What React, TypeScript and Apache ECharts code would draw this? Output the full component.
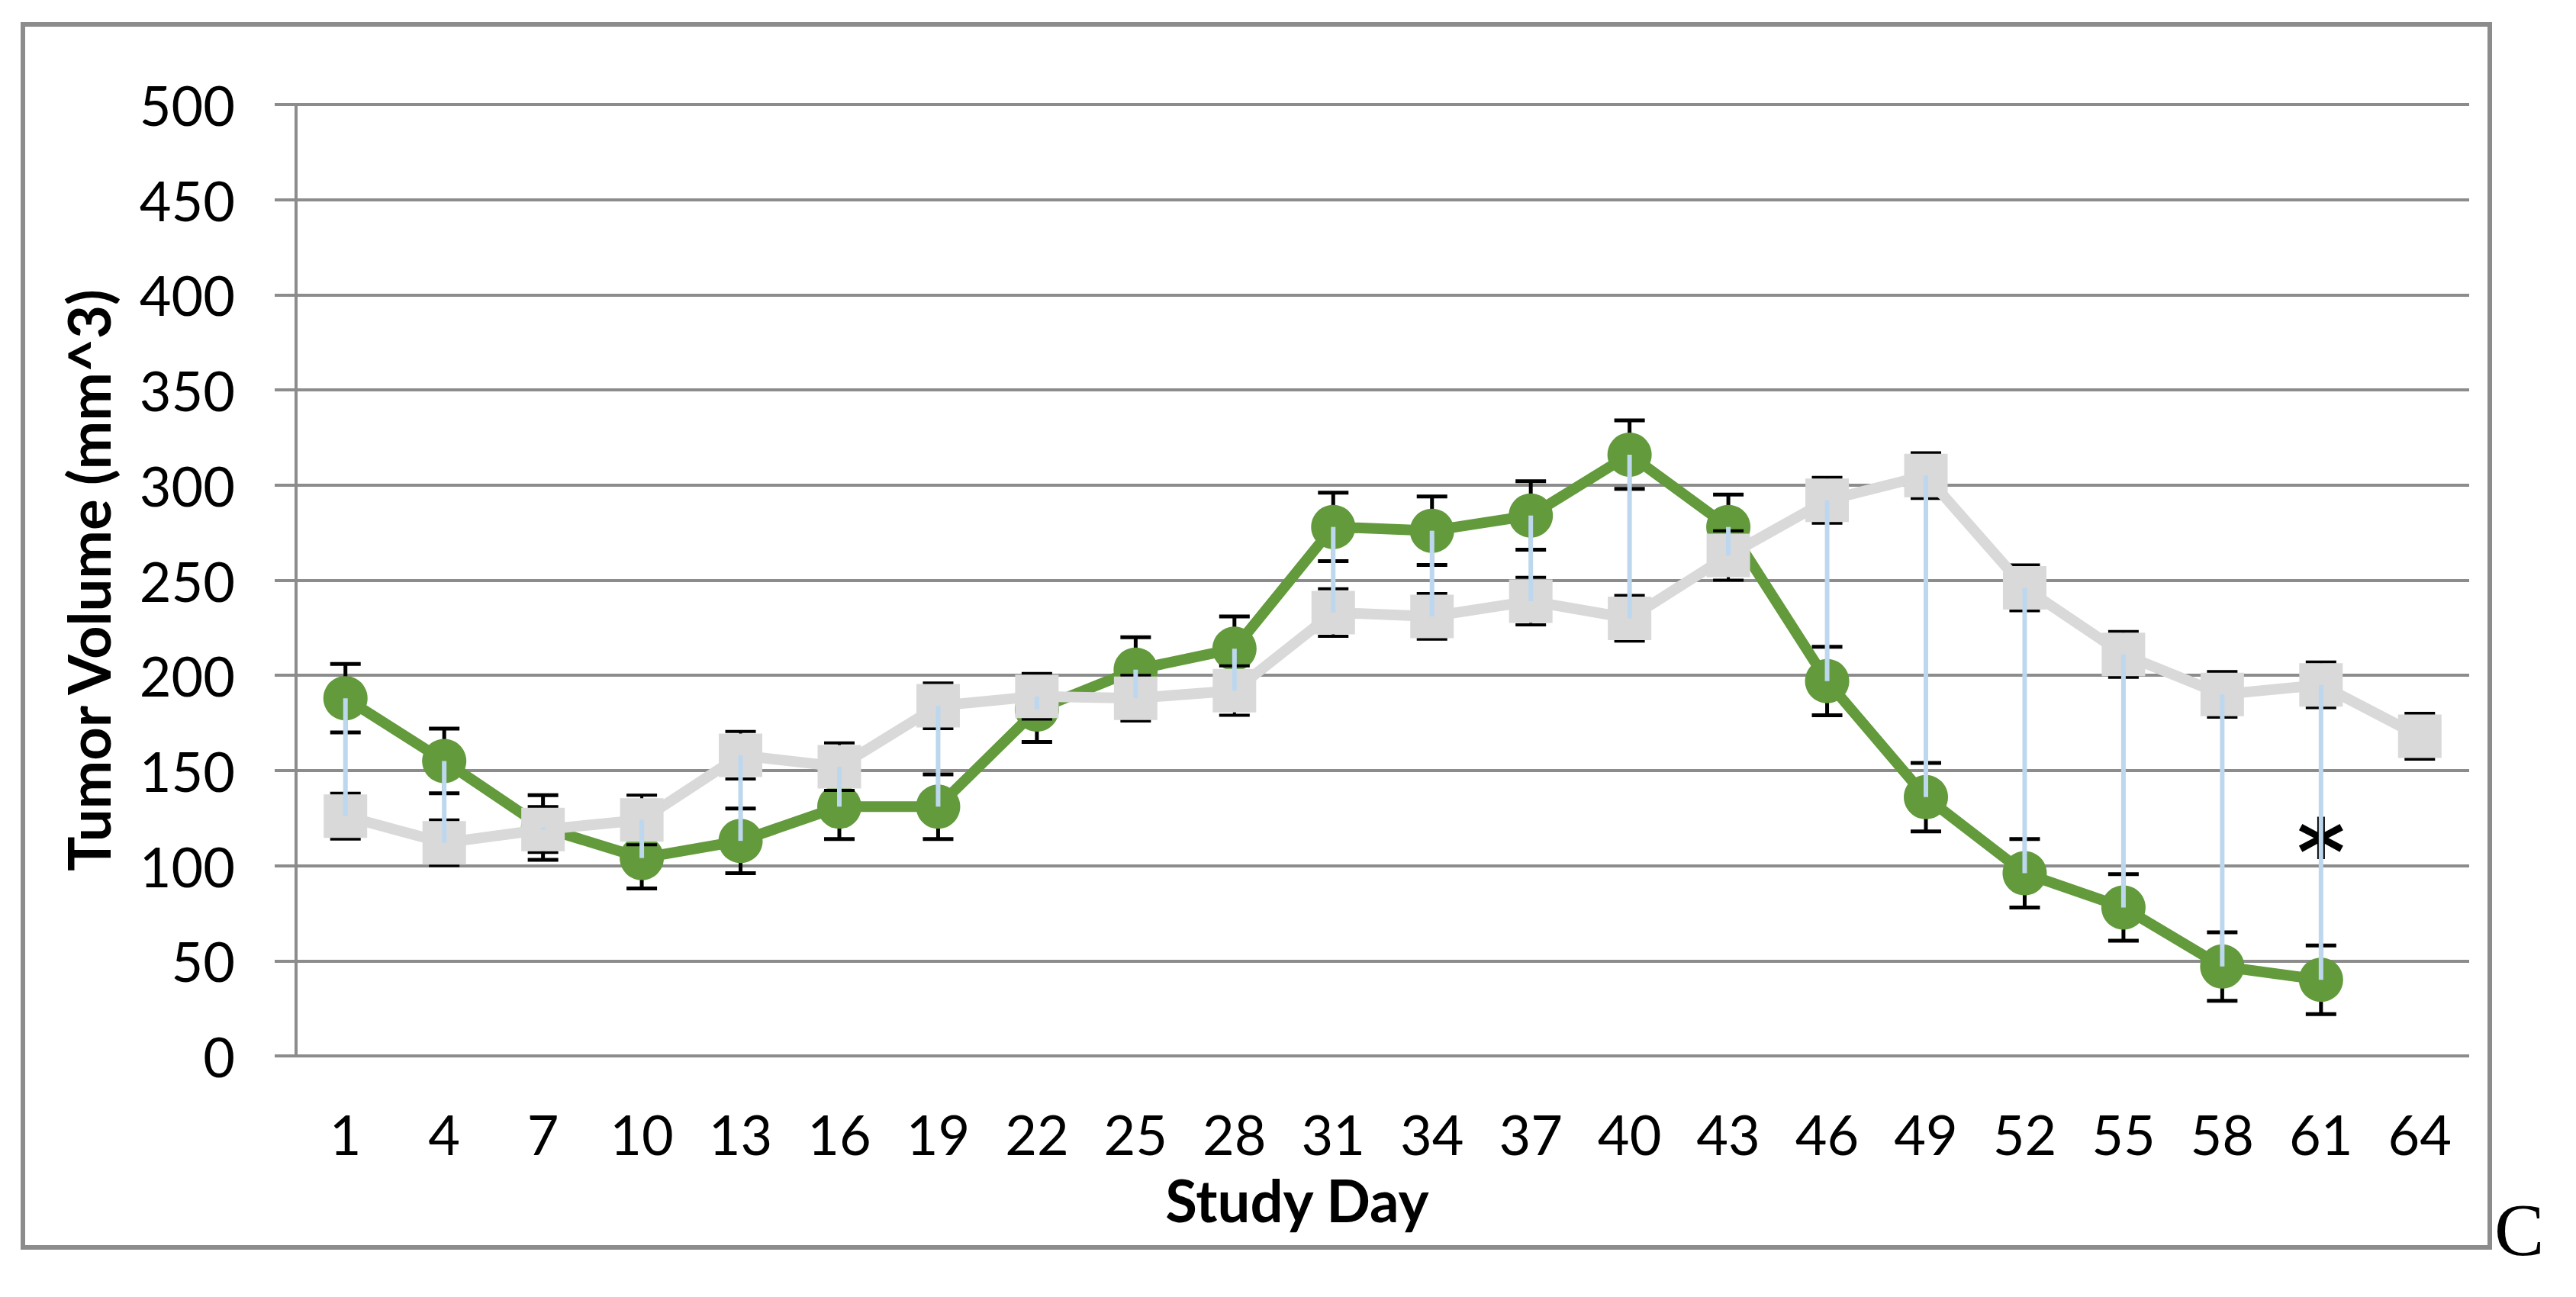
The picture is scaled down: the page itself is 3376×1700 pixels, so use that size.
import React, { useEffect, useRef } from "react";
import * as echarts from "echarts";

const days = ["1", "4", "7", "10", "13", "16", "19", "22", "25", "28", "31", "34", "37", "40", "43", "46", "49", "52", "55", "58", "61", "64"];
const treated = [188, 155, 120, 104, 113, 131, 131, 182, 203, 214, 278, 276, 284, 316, 278, 197, 136, 96, 78, 47, 40, null];
const treatedErr = [18, 17, 17, 16, 17, 17, 17, 17, 17, 17, 18, 18, 18, 18, 17, 18, 18, 18, 17.5, 18, 18, null];
const control = [126, 112, 119, 124, 158, 152, 184, 189, 188, 192, 233, 231, 239, 230, 263, 292, 305, 246, 211, 190, 195, 168];
const controlErr = [12, 12, 12, 13, 12.5, 12.5, 12, 12, 12, 13, 12.5, 12, 12.5, 12, 13, 12, 12, 12, 12, 12, 12, 12];
const yTicks = { min: 0, max: 500, interval: 50 };
const annotation = { day: "61", value: 107, text: "*" };

const FONT = "Lato";

function errRender(capHalf: number, lw: number) {
  return (params: any, api: any) => {
    const i = api.value(0);
    const v = api.value(1);
    const e = api.value(2);
    const t = api.coord([i, v + e]);
    const b = api.coord([i, v - e]);
    const style = { stroke: "#000", lineWidth: lw };
    return {
      type: "group",
      children: [
        { type: "line", shape: { x1: t[0], y1: t[1], x2: b[0], y2: b[1] }, style },
        { type: "line", shape: { x1: t[0] - capHalf, y1: t[1], x2: t[0] + capHalf, y2: t[1] }, style },
        { type: "line", shape: { x1: b[0] - capHalf, y1: b[1], x2: b[0] + capHalf, y2: b[1] }, style },
      ],
    };
  };
}

function hiLoRender(params: any, api: any) {
  const i = api.value(0);
  const a = api.coord([i, api.value(1)]);
  const b = api.coord([i, api.value(2)]);
  return {
    type: "line",
    shape: { x1: a[0], y1: a[1], x2: b[0], y2: b[1] },
    style: { stroke: "#bdd7ee", lineWidth: 6 },
  };
}

export default function App() {
  const ref = useRef<HTMLDivElement>(null);
  useEffect(() => {
    if (!ref.current) return;
    const chart = echarts.init(ref.current, null, { renderer: "svg" });

    const treatedErrData = days
      .map((d, i) => (treated[i] == null ? null : [i, treated[i], treatedErr[i]]))
      .filter((x) => x !== null);
    const controlErrData = days
      .map((d, i) => (control[i] == null ? null : [i, control[i], controlErr[i]]))
      .filter((x) => x !== null);
    const hiLoData = days
      .map((d, i) => (treated[i] == null || control[i] == null ? null : [i, treated[i], control[i]]))
      .filter((x) => x !== null);

    const option: any = {
      animation: false,
      backgroundColor: "#ffffff",
      grid: { left: 388, right: 140, top: 137, bottom: 316, containLabel: false },
      xAxis: {
        type: "category",
        data: days,
        boundaryGap: true,
        axisLine: { show: false },
        axisTick: { show: false },
        splitLine: { show: false },
        axisLabel: { fontFamily: FONT, fontSize: 72, color: "#000", margin: 66, interval: 0 },
        name: "Study Day",
        nameLocation: "middle",
        nameGap: 150,
        nameTextStyle: {
          fontFamily: FONT,
          fontWeight: "bold",
          fontSize: 76,
          color: "#000",
          padding: [0, 224, 0, 0],
        },
      },
      yAxis: {
        type: "value",
        min: yTicks.min,
        max: yTicks.max,
        interval: yTicks.interval,
        axisLine: { show: true, lineStyle: { color: "#8c8c8c", width: 4 } },
        axisTick: { show: true, length: 28, lineStyle: { color: "#8c8c8c", width: 4 } },
        splitLine: { show: true, lineStyle: { color: "#8c8c8c", width: 4 } },
        axisLabel: { fontFamily: FONT, fontSize: 72, color: "#000", margin: 80 },
        name: "Tumor Volume (mm^3)",
        nameLocation: "middle",
        nameRotate: 90,
        nameGap: 235,
        nameTextStyle: { fontFamily: FONT, fontWeight: "bold", fontSize: 76, color: "#000" },
      },
      graphic: [
        {
          type: "rect",
          shape: { x: 30, y: 32, width: 3233, height: 1603 },
          style: { fill: "none", stroke: "#8c8c8c", lineWidth: 6 },
          z: 0,
        },
        {
          type: "text",
          left: 3269,
          top: 1563,
          style: { text: "C", font: '98px "Liberation Serif"', fill: "#000" },
        },
      ],
      series: [
        {
          type: "custom",
          name: "treatedErr",
          renderItem: errRender(20, 5),
          data: treatedErrData,
          encode: { x: 0, y: 1 },
          z: 2,
          silent: true,
        },
        {
          type: "line",
          name: "Treated",
          data: treated,
          symbol: "circle",
          symbolSize: 58,
          showAllSymbol: true,
          itemStyle: { color: "#629a3c" },
          lineStyle: { color: "#629a3c", width: 14, cap: "round", join: "round" },
          z: 3,
        },
        {
          type: "custom",
          name: "controlErr",
          renderItem: errRender(20, 4),
          data: controlErrData,
          encode: { x: 0, y: 1 },
          z: 4,
          silent: true,
        },
        {
          type: "line",
          name: "Control",
          data: control,
          symbol: "rect",
          symbolSize: 57,
          showAllSymbol: true,
          itemStyle: { color: "#d9d9d9" },
          lineStyle: { color: "#d9d9d9", width: 14, cap: "round", join: "round" },
          z: 5,
        },
        {
          type: "custom",
          name: "hiLo",
          renderItem: hiLoRender,
          data: hiLoData,
          encode: { x: 0, y: 1 },
          z: 6,
          silent: true,
          markPoint: {
            symbol: "circle",
            symbolSize: 0,
            data: [
              {
                coord: [annotation.day, annotation.value],
                label: {
                  show: true,
                  formatter: annotation.text,
                  position: "inside",
                  fontFamily: "DejaVu Sans",
                  fontWeight: "bold",
                  fontSize: 120,
                  color: "#000",
                },
              },
            ],
          },
        },
      ],
    };
    chart.setOption(option);
    return () => chart.dispose();
  }, []);
  return (
    <div
      ref={ref}
      style={{ position: "fixed", left: 0, top: 0, width: 3376, height: 1700, background: "#fff" }}
    />
  );
}
